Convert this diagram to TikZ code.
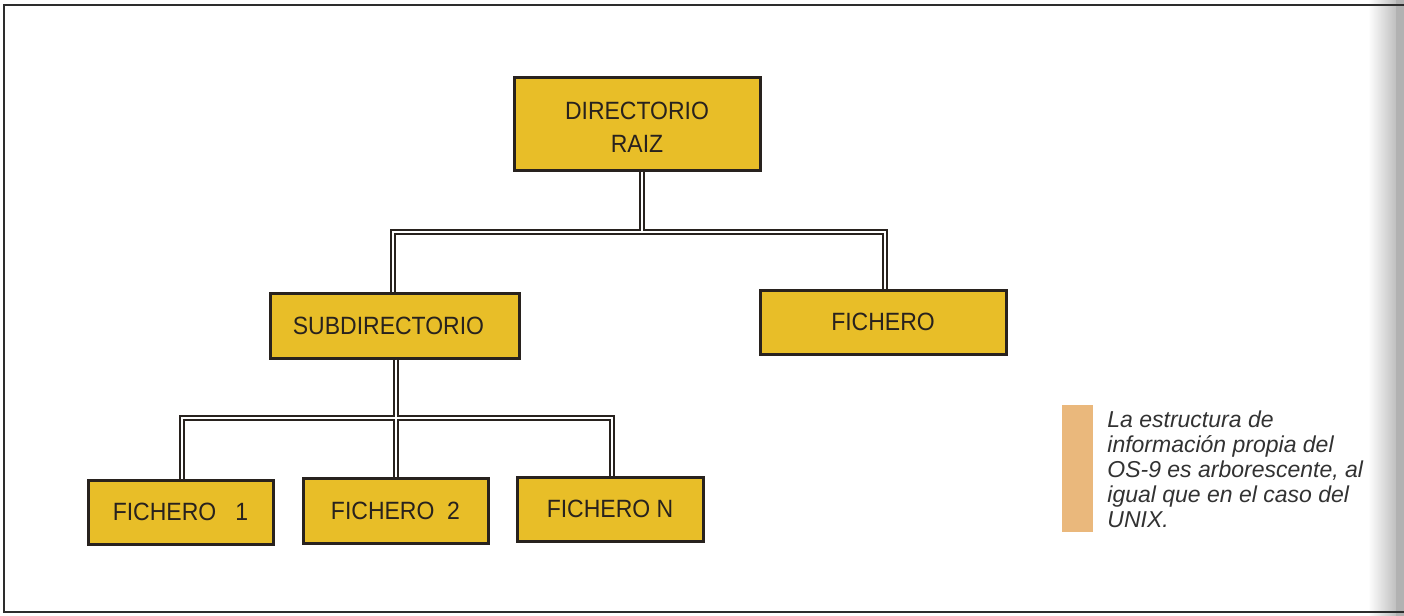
\documentclass[tikz,border=0pt]{standalone}
\usepackage{fontspec}
\setmainfont{Liberation Sans}
\newfontfamily\boxfont[FakeStretch=0.92]{Liberation Sans}
\definecolor{boxfill}{RGB}{232,190,40}
\definecolor{boxline}{RGB}{40,34,30}
\definecolor{barcol}{RGB}{234,184,124}
\definecolor{captext}{RGB}{50,50,50}
\definecolor{framecol}{RGB}{45,45,45}
\begin{document}
\begin{tikzpicture}[x=0.5pt,y=-0.5pt,
  dirbox/.style={draw=boxline, fill=boxfill, line width=1.5pt, inner sep=0pt,
    font=\boxfont\fontsize{12.5}{16.5}\selectfont, text=boxline, align=center},
  connout/.style={draw=boxline, line width=3pt, line join=miter},
  connin/.style={draw=white, line width=1pt, line join=miter}]
\useasboundingbox (0,0) rectangle (1404,616);
\fill[white] (0,0) rectangle (1404,616);
% right page shadow
\shade[left color=white, right color=black!25] (1368,0) rectangle (1396,616);
\fill[black!30] (1396,0) rectangle (1404,616);
% frame
\draw[framecol, line width=1pt] (1404,5) -- (4,5) -- (4,612) -- (1404,612);
% boxes (sizes in pt = px/2)
\node[dirbox, minimum width=123pt, minimum height=46.5pt] (root) at (637,123.5) {\raisebox{-6.1pt}[0pt][0pt]{\begin{tabular}{@{}c@{}}DIRECTORIO\\RAIZ\end{tabular}}};
\node[dirbox, minimum width=124.5pt, minimum height=32.5pt] (sub) at (394.5,325.5) {SUBDIRECTORIO\hspace{6pt}};
\node[dirbox, minimum width=123pt, minimum height=32pt] (fich) at (883,322) {FICHERO};
\node[dirbox, minimum width=92.5pt, minimum height=32pt] (f1) at (180.5,512) {FICHERO\ \ \ 1};
\node[dirbox, minimum width=92.5pt, minimum height=32.5pt] (f2) at (395.5,510.5) {FICHERO\ \ 2};
\node[dirbox, minimum width=93pt, minimum height=32pt] (fn) at (610,509) {FICHERO N};
% junction coordinates
\coordinate (jr) at (642,232);
\coordinate (hl) at (393,232);
\coordinate (hr) at (885,232);
\coordinate (js) at (396,418);
\coordinate (bl) at (182,418);
\coordinate (br) at (612,418);
% connectors: outer strokes then inner strokes
\foreach \s in {connout,connin}{
  \draw[\s] (root.south -| jr) -- (jr);
  \draw[\s] (sub.north -| hl) -- (hl) -- (hr) -- (fich.north -| hr);
  \draw[\s] (sub.south -| js) -- (js);
  \draw[\s] (f1.north -| bl) -- (bl) -- (br) -- (fn.north -| br);
  \draw[\s] (js) -- (f2.north -| js);
}
% caption
\fill[barcol] (1062,405) rectangle (1093,532);
\node[anchor=north west, inner sep=0pt, align=left, text=captext,
  font=\itshape\fontsize{11.5}{12.6}\selectfont] (cap) at (1107,410)
  {La estructura de\\información propia del\\OS-9 es arborescente, al\\igual que en el caso del\\UNIX.};
\end{tikzpicture}
\end{document}
